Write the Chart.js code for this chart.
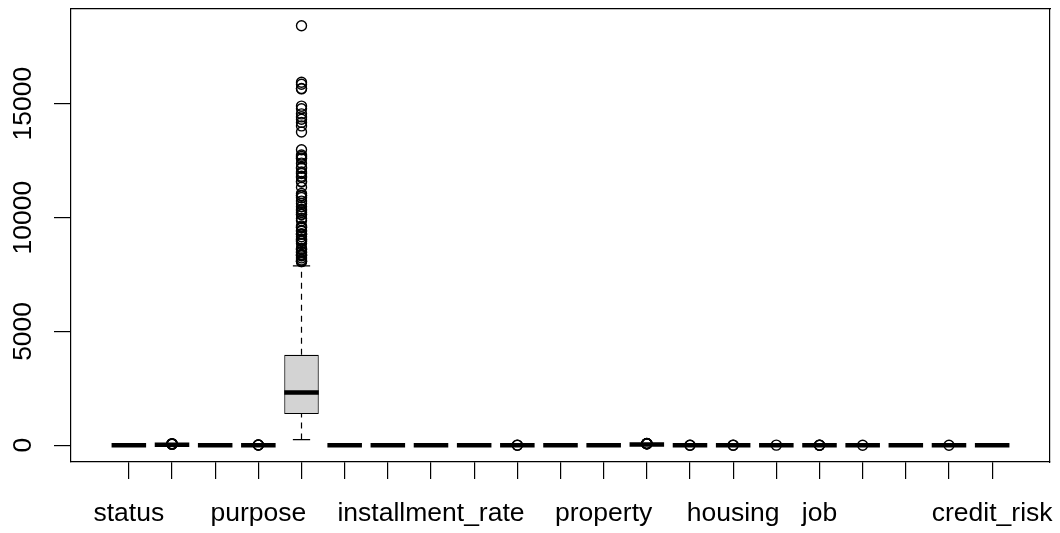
<!DOCTYPE html>
<html><head><meta charset="utf-8">
<script src="https://cdn.jsdelivr.net/npm/chart.js@4.4.1/dist/chart.umd.min.js"></script>
<style>html,body{margin:0;padding:0;background:#fff;} canvas{display:block;}</style>
</head><body>
<canvas id="c" width="1060" height="533"></canvas>
<script>
const categories = ['status','duration','credit_history','purpose','amount','savings','employment_duration','installment_rate','personal_status_sex','other_debtors','present_residence','property','age','other_installment_plans','housing','number_credits','job','people_liable','telephone','foreign_worker','credit_risk'];
const shownLabels = ['status','purpose','installment_rate','property','housing','job','credit_risk'];
const lowerWhisker = [1,4,0,0,250,1,1,1,1,1,1,1,19,3,2,1,3,2,1,2,0];
const q1 =           [1,12,2,1,1366,1,3,2,2,1,2,1,27,3,2,1,3,2,1,2,0];
const median =       [2,18,2,2,2320,1,3,3,3,1,3,2,33,3,2,1,3,2,1,2,1];
const q3 =           [4,24,4,3,3972,3,5,4,3,1,4,3,42,3,2,2,3,2,2,2,1];
const upperWhisker = [4,42,4,6,7882,5,5,4,4,1,4,4,64,3,2,3,3,2,2,2,1];
const amountOutliers = [8065,8072,8086,8133,8229,8318,8335,8358,8386,8471,8487,8588,8613,8648,8858,8947,8978,9034,9055,9157,9271,9277,9283,9398,9436,9566,9572,9629,9857,9960,10127,10144,10222,10297,10366,10477,10623,10722,10875,10961,10974,11054,11328,11560,11590,11760,11816,11938,11998,12169,12204,12389,12579,12612,12680,12749,12976,13756,14027,14179,14318,14421,14555,14782,14896,15653,15672,15857,15945,18424];
const outliers = [[],[45,47,48,54,60,72],[],[8,9,10],amountOutliers,[],[],[],[],[2,3],[],[],[65,66,67,68,70,74,75],[1,2],[1,3],[4],[1,2,4],[1],[],[1],[]];
const yTicks = [0,5000,10000,15000];

const boxHalf = 0.4, capHalf = 0.2;
const n = categories.length;
const yMin = 0 - 0.04*18424, yMax = 18424 + 0.04*18424;
const xMin = 0.5 - 0.04*n, xMax = n + 0.5 + 0.04*n;

const boxData = [], medData = [], whiskData = [], capData = [], outData = [];
categories.forEach((c, i) => {
  const x = i + 1;
  boxData.push({x: x, y: [q1[i], q3[i]]});
  medData.push({x: x - boxHalf, y: median[i]}, {x: x + boxHalf, y: median[i]}, {x: x, y: null});
  whiskData.push({x: x, y: q3[i]}, {x: x, y: upperWhisker[i]}, {x: x, y: null},
                 {x: x, y: lowerWhisker[i]}, {x: x, y: q1[i]}, {x: x, y: null});
  capData.push({x: x - capHalf, y: upperWhisker[i]}, {x: x + capHalf, y: upperWhisker[i]}, {x: x, y: null},
               {x: x - capHalf, y: lowerWhisker[i]}, {x: x + capHalf, y: lowerWhisker[i]}, {x: x, y: null});
  outliers[i].forEach(v => outData.push({x: x, y: v}));
});

const FONT = {family: '"Liberation Sans", Arial, sans-serif', size: 26.5};
const noPad = s => { s.paddingLeft = 0; s.paddingRight = 0; s.paddingTop = 0; s.paddingBottom = 0; };

new Chart(document.getElementById('c'), {
  type: 'scatter',
  data: {
    datasets: [
      {type: 'bar', data: boxData, backgroundColor: '#d3d3d3', borderColor: '#000', borderWidth: 1.2,
       borderSkipped: false, barPercentage: 0.8, categoryPercentage: 1.0, order: 4},
      {type: 'line', data: whiskData, borderColor: '#000', borderWidth: 1.2, borderDash: [6,5],
       pointRadius: 0, fill: false, spanGaps: false, order: 3},
      {type: 'line', data: capData, borderColor: '#000', borderWidth: 1.2,
       pointRadius: 0, fill: false, spanGaps: false, order: 2},
      {type: 'line', data: medData, borderColor: '#000', borderWidth: 4.5,
       pointRadius: 0, fill: false, spanGaps: false, order: 1},
      {type: 'line', data: outData, showLine: false, pointRadius: 5, pointStyle: 'circle',
       pointBackgroundColor: 'rgba(0,0,0,0)', pointBorderColor: '#000', pointBorderWidth: 1.4, order: 0}
    ]
  },
  options: {
    responsive: false,
    animation: false,
    devicePixelRatio: 1,
    layout: {padding: 0},
    plugins: {legend: {display: false}, tooltip: {enabled: false}},
    scales: {
      x: {
        type: 'linear', position: 'bottom', min: xMin, max: xMax, offset: false,
        afterBuildTicks: s => { s.ticks = categories.map((c, i) => ({value: i + 1})); },
        afterFit: s => { s.height = 71; noPad(s); },
        grid: {display: true, drawOnChartArea: false, drawTicks: true, tickLength: 17, color: '#000', lineWidth: 1.2, offset: false},
        border: {display: true, color: '#000', width: 1.2},
        ticks: {autoSkip: false, maxRotation: 0, minRotation: 0, padding: 19, color: '#000', font: FONT,
          callback: v => { const name = categories[Math.round(v) - 1]; return shownLabels.includes(name) ? name : ''; }}
      },
      y: {
        type: 'linear', position: 'left', min: yMin, max: yMax,
        afterBuildTicks: s => { s.ticks = yTicks.map(v => ({value: v})); },
        afterFit: s => { s.width = 71; noPad(s); },
        grid: {display: true, drawOnChartArea: false, drawTicks: true, tickLength: 17, color: '#000', lineWidth: 1.2},
        border: {display: true, color: '#000', width: 1.2},
        ticks: {minRotation: 90, maxRotation: 90, crossAlign: 'center', padding: -7, color: '#000', font: FONT,
          callback: v => String(v)}
      },
      x2: {
        type: 'linear', position: 'top', min: xMin, max: xMax,
        afterFit: s => { s.height = 9; noPad(s); },
        grid: {display: false, drawTicks: false},
        border: {display: true, color: '#000', width: 1.2},
        ticks: {display: false}
      },
      y2: {
        type: 'linear', position: 'right', min: yMin, max: yMax,
        afterFit: s => { s.width = 10; noPad(s); },
        grid: {display: false, drawTicks: false},
        border: {display: true, color: '#000', width: 1.2},
        ticks: {display: false}
      }
    }
  }
});
</script>
</body></html>
